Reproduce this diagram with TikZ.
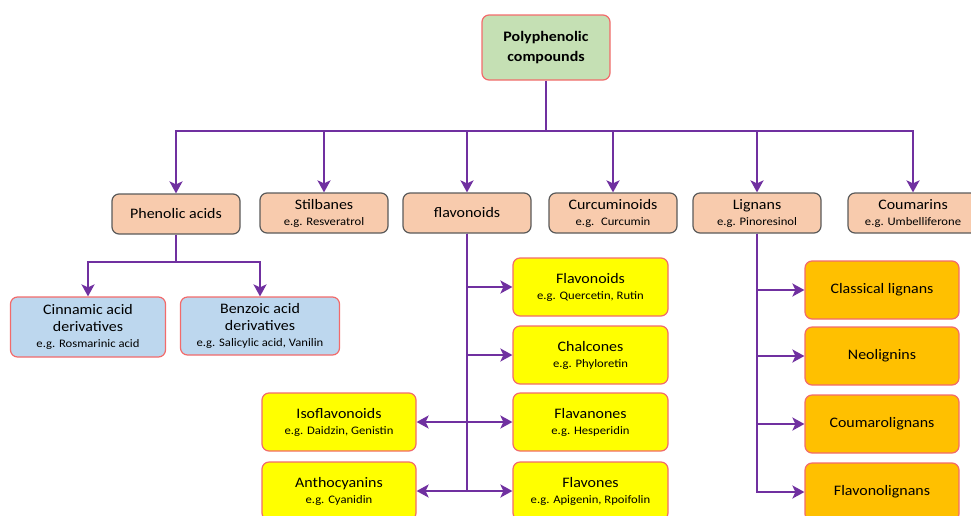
\documentclass[tikz,border=0pt]{standalone}
\usepackage{fontspec}
\setmainfont[FakeStretch=1.1]{Carlito}
\usetikzlibrary{arrows.meta}
\definecolor{violet1}{HTML}{7030A0}
\definecolor{bordrouge}{HTML}{F26B6B}
\definecolor{bordgris}{HTML}{5A5A5A}
\definecolor{vertclair}{HTML}{C5E0B4}
\definecolor{peche}{HTML}{F8CBAD}
\definecolor{bleuclair}{HTML}{BDD7EE}
\definecolor{jaune}{HTML}{FFFF00}
\definecolor{orange1}{HTML}{FFC000}
\newcommand{\eg}[1]{\\[-1pt]{\fontsize{11.5}{13}\selectfont e.g. #1}}
\begin{document}
\begin{tikzpicture}[x=1pt,y=-1pt]
\useasboundingbox (0,0) rectangle (971,515);
\tikzstyle{lien}=[-{Stealth[length=12pt,width=13pt,inset=3pt]},line width=2.8pt,draw=violet1]
\tikzstyle{trait}=[line width=2.8pt,draw=violet1]
\tikzset{individu/.style={draw=bordrouge,line width=1.2pt,rounded corners=7pt,fill=#1,
align=center,inner sep=2pt,font=\fontsize{14.5}{17}\selectfont},
individu/.default={white}}
\tikzset{famille/.style={individu=peche,draw=bordgris,minimum width=128pt,minimum height=40pt}}
\tikzset{flavo/.style={individu=jaune,minimum width=155pt,minimum height=58pt}}
\tikzset{lignan/.style={individu=orange1,minimum width=154pt,minimum height=58pt}}

\node[individu=vertclair,minimum width=128pt,minimum height=65pt,font=\fontsize{14.5}{20}\selectfont\bfseries] (P) at (546,47.5){Polyphenolic\\compounds};

\node[famille] (P1) at (176,214){Phenolic acids};
\node[famille] (P2) at (324,213){Stilbanes\eg{Resveratrol}};
\node[famille] (P3) at (467,213){flavonoids};
\node[famille] (P4) at (613,213){Curcuminoids\eg{\ Curcumin}};
\node[famille] (P5) at (757,213){Lignans\eg{Pinoresinol}};
\node[famille,minimum width=130pt] (P6) at (913,213){Coumarins\eg{Umbelliferone}};

\coordinate (bus) at (546,131);
\draw[trait] (P) -- (bus);
\draw[lien] (bus) -| (P1);
\draw[lien] (bus) -| (P2);
\draw[lien] (bus) -| (P3);
\draw[lien] (bus) -| (P4);
\draw[lien] (bus) -| (P5);
\draw[lien] (bus) -| (P6);

\node[individu=bleuclair,minimum width=155pt,minimum height=60pt] (P11) at (88,327){Cinnamic acid\\derivatives\eg{Rosmarinic acid}};
\node[individu=bleuclair,minimum width=159pt,minimum height=58pt] (P12) at (260,326){Benzoic acid\\derivatives\eg{Salicylic acid, Vanilin}};

\coordinate (bus2) at (176,262);
\draw[trait] (P1) -- (bus2);
\draw[lien] (bus2) -| (P11);
\draw[lien] (bus2) -| (P12);

\node[flavo] (P31) at (590.5,287){Flavonoids\eg{Quercetin, Rutin}};
\node[flavo] (P32) at (590.5,355){Chalcones\eg{Phyloretin}};
\node[flavo] (P33) at (590.5,422){Flavanones\eg{Hesperidin}};
\node[flavo] (P34) at (590.5,491){Flavones\eg{Apigenin, Rpoifolin}};
\node[flavo,minimum width=154pt] (P35) at (339,422){Isoflavonoids\eg{Daidzin, Genistin}};
\node[flavo,minimum width=154pt] (P36) at (339,491){Anthocyanins\eg{Cyanidin}};

\draw[lien] (P3) |- (P31);
\draw[lien] (P3) |- (P32);
\draw[lien] (P3) |- (P33);
\draw[lien] (P3) |- (P34);
\draw[lien] (P3) |- (P35);
\draw[lien] (P3) |- (P36);

\node[lignan] (P51) at (882,290){Classical lignans};
\node[lignan] (P52) at (882,356){Neolignins};
\node[lignan] (P53) at (882,424){Coumarolignans};
\node[lignan] (P54) at (882,492){Flavonolignans};

\draw[lien] (P5) |- (P51);
\draw[lien] (P5) |- (P52);
\draw[lien] (P5) |- (P53);
\draw[lien] (P5) |- (P54);
\end{tikzpicture}
\end{document}
